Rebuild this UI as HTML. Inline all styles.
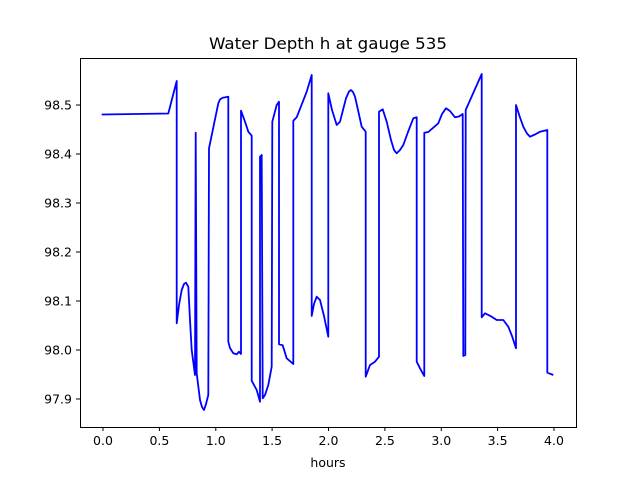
<!DOCTYPE html>
<html><head><meta charset="utf-8"><style>
html,body{margin:0;padding:0;background:#fff;}
svg{display:block;font-family:"DejaVu Sans","Liberation Sans",sans-serif;}
</style></head><body>
<svg width="640" height="480" viewBox="0 0 640 480" xmlns="http://www.w3.org/2000/svg">
<rect width="640" height="480" fill="#fff"/>
<text x="209" y="49" font-size="16" textLength="238" lengthAdjust="spacingAndGlyphs" fill="#000">Water Depth h at gauge 535</text>
<polyline fill="none" stroke="#0000ff" stroke-width="1.8" stroke-linejoin="round" points="
101.7,114.5 168.3,113.5 176.7,81 176.7,323.3 179,305 181.7,290 184,284 186,282.7 188.3,286.7 190,320 191.7,350 195,375 195.7,132.7 196.7,373.3 200,400 202,407 204,410 206,404 208.3,395 209,148.3 218.3,103.3 220,99.5 222.7,97.7 228.3,96.7 228.3,341.7 230,348 233.3,353.3 236.7,354.3 239,351.7 241,354 241,110.7 245,121.7 248.3,131.7 251.7,135.7 251.7,380.7 256.7,390 260,401.7 260,156.7 261.7,155 262.7,398.3 265,395 268.3,385 271.7,366.7 272.3,121.7 276.7,105 279,101.7 279,344.3 282.7,345.3 286.7,358.3 293.3,364 293.3,120.7 296.7,117.3 306.7,91.7 311.7,75 311.7,316 314,304 316.7,296.7 320,300 324,316 328.3,336.7 328.3,93.3 332,110 336.7,125 340,121.7 343,110 346,98.3 349,91.5 351,90 353,92 355,96.7 358,110 361.7,126.7 365.7,131.7 365.7,376.7 370,365 375,361.7 379,356.7 379,111.7 382.7,109.3 386.7,121.7 391,140 394,150 396.7,153.3 400,150 403.3,145 408,132 413.3,118.3 416.7,117.3 416.7,361.7 420,368.3 424.3,376 424.3,132.7 428.3,132 438.3,123.3 442,114 446,108.3 450,111 455,117.3 459,116.5 462.7,114 463.3,356 465.3,355 465.7,110 481.7,74 481.7,317.3 485,313.3 491.7,316.7 496.7,320 503.3,320 508.3,326.7 512,336 516,348.3 516,105 519.5,116 523.3,126.7 527,133.5 530,136.7 535,134.5 540,131.7 547.3,130 547.3,372.7 553.3,375"/>
<rect x="80.5" y="58.5" width="496" height="369" fill="none" stroke="#000" stroke-width="1"/>
<g stroke="#000" stroke-width="1">
<line x1="103" y1="427" x2="103" y2="431"/><line x1="159.4" y1="427" x2="159.4" y2="431"/><line x1="215.8" y1="427" x2="215.8" y2="431"/><line x1="272.1" y1="427" x2="272.1" y2="431"/><line x1="328.5" y1="427" x2="328.5" y2="431"/><line x1="384.9" y1="427" x2="384.9" y2="431"/><line x1="441.3" y1="427" x2="441.3" y2="431"/><line x1="497.6" y1="427" x2="497.6" y2="431"/><line x1="554" y1="427" x2="554" y2="431"/>
<line x1="76" y1="105" x2="80" y2="105"/><line x1="76" y1="154" x2="80" y2="154"/><line x1="76" y1="203" x2="80" y2="203"/><line x1="76" y1="252" x2="80" y2="252"/><line x1="76" y1="301" x2="80" y2="301"/><line x1="76" y1="350" x2="80" y2="350"/><line x1="76" y1="399" x2="80" y2="399"/>
</g>
<g font-size="12.5" fill="#000" text-anchor="middle">
<text x="103" y="445">0.0</text><text x="159.4" y="445">0.5</text><text x="215.8" y="445">1.0</text><text x="272.1" y="445">1.5</text><text x="328.5" y="445">2.0</text><text x="384.9" y="445">2.5</text><text x="441.3" y="445">3.0</text><text x="497.6" y="445">3.5</text><text x="554" y="445">4.0</text>
<text x="328" y="467">hours</text>
</g>
<g font-size="12.5" fill="#000" text-anchor="end">
<text x="72" y="109.5">98.5</text><text x="72" y="158.5">98.4</text><text x="72" y="207.5">98.3</text><text x="72" y="256.5">98.2</text><text x="72" y="305.5">98.1</text><text x="72" y="354.5">98.0</text><text x="72" y="403.5">97.9</text>
</g>
</svg>
</body></html>
